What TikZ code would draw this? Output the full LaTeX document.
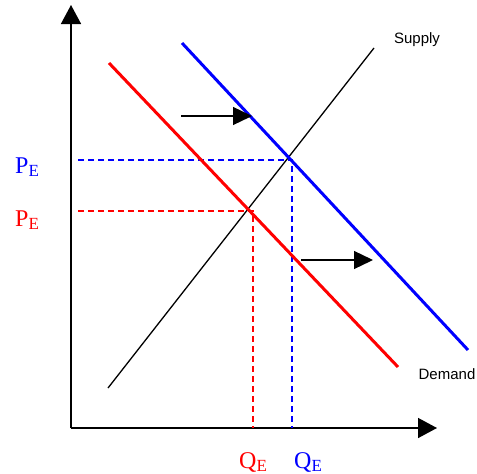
\documentclass[tikz,border=0pt]{standalone}
\usepackage{fontspec}
\setmainfont{Liberation Serif}
\setsansfont{Liberation Sans}
\usetikzlibrary{arrows.meta}

\begin{document}
\begin{tikzpicture}[
  x=1pt, y=-1pt,
  axis/.style={line width=1.5pt, -{Triangle[length=19pt,width=20pt]}},
  shiftarrow/.style={line width=1.3pt, -{Triangle[length=19pt,width=18pt]}},
  supplyline/.style={line width=1.3pt},
  demred/.style={red, line width=3pt},
  demblue/.style={blue, line width=3pt},
  guide/.style={line width=1.5pt, dash pattern=on 6pt off 4pt},
  eqlab/.style={font=\fontsize{24}{26}\selectfont, inner sep=0pt, anchor=base west},
  curvelab/.style={font=\sffamily\fontsize{15}{17}\selectfont, inner sep=0pt}
]
\newcommand{\eqsub}[1]{#1\raisebox{-3pt}{\fontsize{17}{17}\selectfont E}}

\useasboundingbox (0,0) rectangle (477,474);

% axes
\coordinate (origin) at (71,428);
\coordinate (ytop) at (71,5);
\coordinate (xend) at (437,428);
\draw[axis] (origin) -- (ytop);
\draw[axis] (origin) -- (xend);

% supply and the two demand curves
\coordinate (s1) at (108,388);
\coordinate (s2) at (374,48);
\coordinate (rd1) at (109,63);
\coordinate (rd2) at (398,367);
\coordinate (bd1) at (182,43);
\coordinate (bd2) at (468,350);

% equilibrium guides
\coordinate (eqred) at (253,211);
\coordinate (eqblue) at (292,160);
\draw[guide, red] (78,211) -- (eqred) -- (eqred |- origin);
\draw[guide, blue] (78,160) -- (eqblue) -- (eqblue |- origin);

\draw[supplyline] (s1) -- (s2);
\draw[demred] (rd1) -- (rd2);
\draw[demblue] (bd1) -- (bd2);

% shift arrows
\coordinate (a1) at (181,116);
\coordinate (a1e) at (252,116);
\coordinate (a2) at (301,260);
\coordinate (a2e) at (373,260);
\draw[shiftarrow] (a1) -- (a1e);
\draw[shiftarrow] (a2) -- (a2e);

\node[curvelab] (supply) at (417,40) {Supply};
\node[curvelab] (demand) at (447,374) {Demand};

\node[eqlab, blue] (pblue) at (15,173) {\eqsub{P}};
\node[eqlab, red] (pred) at (15,226) {\eqsub{P}};
\node[eqlab, red] (qred) at (239,468) {\eqsub{Q}};
\node[eqlab, blue] (qblue) at (294,468) {\eqsub{Q}};

\end{tikzpicture}
\end{document}
